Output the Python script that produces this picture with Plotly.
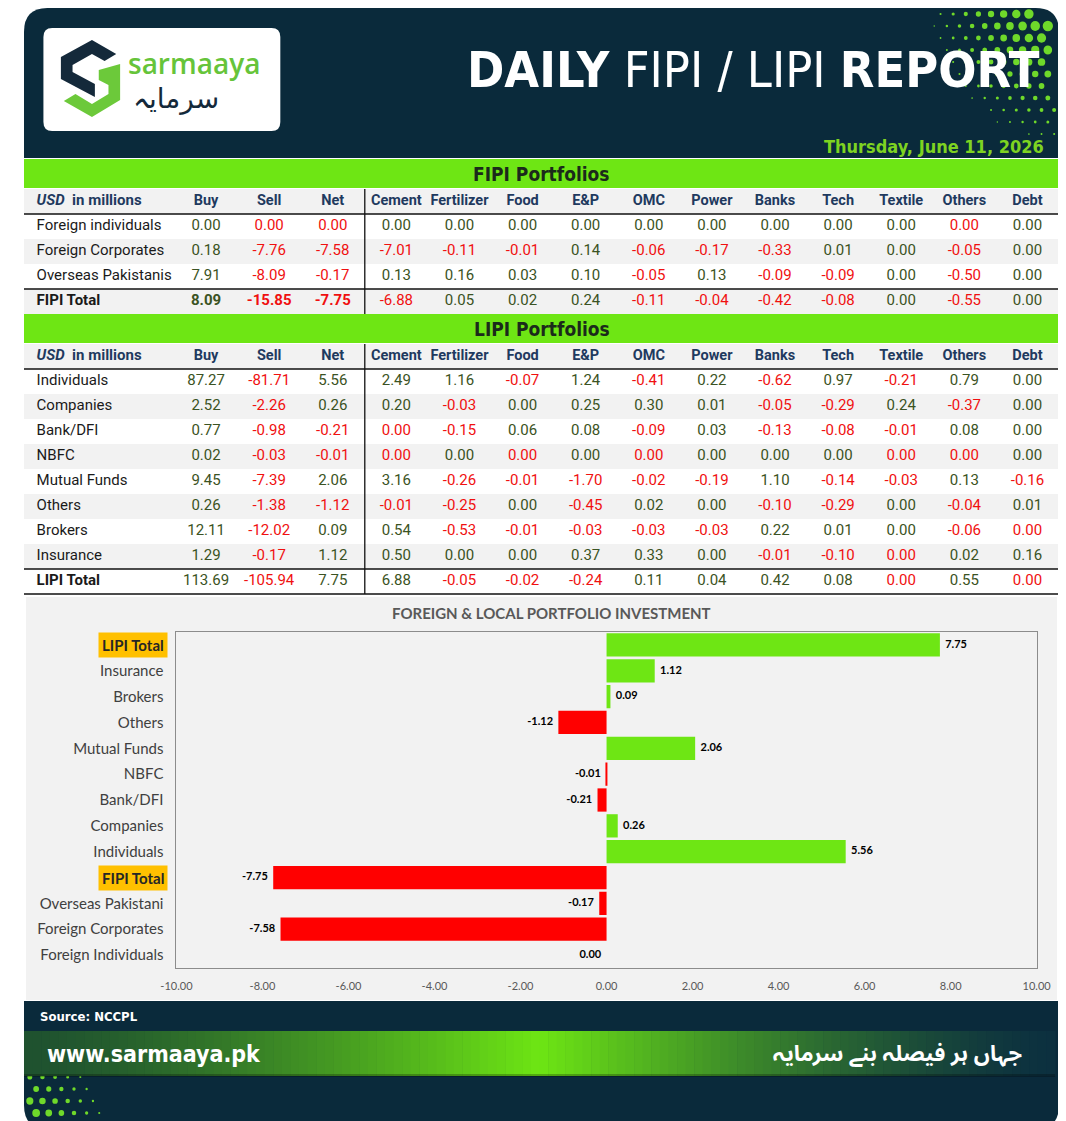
import math
import plotly.graph_objects as go

W, H = 1066, 1121

# ---- data ----
columns = ["Buy", "Sell", "Net", "Cement", "Fertilizer", "Food", "E&P", "OMC",
           "Power", "Banks", "Tech", "Textile", "Others", "Debt"]

fipi_rows = ["Foreign individuals", "Foreign Corporates", "Overseas Pakistanis", "FIPI Total"]
fipi_values = [
    [0.00, -0.0, -0.0, 0.00, 0.00, 0.00, 0.00, 0.00, 0.00, 0.00, 0.00, 0.00, -0.0, 0.00],
    [0.18, -7.76, -7.58, -7.01, -0.11, -0.01, 0.14, -0.06, -0.17, -0.33, 0.01, 0.00, -0.05, 0.00],
    [7.91, -8.09, -0.17, 0.13, 0.16, 0.03, 0.10, -0.05, 0.13, -0.09, -0.09, 0.00, -0.50, 0.00],
    [8.09, -15.85, -7.75, -6.88, 0.05, 0.02, 0.24, -0.11, -0.04, -0.42, -0.08, 0.00, -0.55, 0.00],
]

lipi_rows = ["Individuals", "Companies", "Bank/DFI", "NBFC", "Mutual Funds", "Others",
             "Brokers", "Insurance", "LIPI Total"]
lipi_values = [
    [87.27, -81.71, 5.56, 2.49, 1.16, -0.07, 1.24, -0.41, 0.22, -0.62, 0.97, -0.21, 0.79, 0.00],
    [2.52, -2.26, 0.26, 0.20, -0.03, 0.00, 0.25, 0.30, 0.01, -0.05, -0.29, 0.24, -0.37, 0.00],
    [0.77, -0.98, -0.21, -0.0, -0.15, 0.06, 0.08, -0.09, 0.03, -0.13, -0.08, -0.01, 0.08, 0.00],
    [0.02, -0.03, -0.01, -0.0, 0.00, -0.0, 0.00, -0.0, 0.00, 0.00, 0.00, -0.0, -0.0, 0.00],
    [9.45, -7.39, 2.06, 3.16, -0.26, -0.01, -1.70, -0.02, -0.19, 1.10, -0.14, -0.03, 0.13, -0.16],
    [0.26, -1.38, -1.12, -0.01, -0.25, 0.00, -0.45, 0.02, 0.00, -0.10, -0.29, 0.00, -0.04, 0.01],
    [12.11, -12.02, 0.09, 0.54, -0.53, -0.01, -0.03, -0.03, -0.03, 0.22, 0.01, 0.00, -0.06, -0.0],
    [1.29, -0.17, 1.12, 0.50, 0.00, 0.00, 0.37, 0.33, 0.00, -0.01, -0.10, -0.0, 0.02, 0.16],
    [113.69, -105.94, 7.75, 6.88, -0.05, -0.02, -0.24, 0.11, 0.04, 0.42, 0.08, -0.0, 0.55, -0.0],
]

chart_labels = ["Foreign Individuals", "Foreign Corporates", "Overseas Pakistani", "FIPI Total",
                "Individuals", "Companies", "Bank/DFI", "NBFC", "Mutual Funds", "Others",
                "Brokers", "Insurance", "LIPI Total"]
chart_net = [r[2] for r in fipi_values] + [r[2] for r in lipi_values]
x_ticks = [-10, -8, -6, -4, -2, 0, 2, 4, 6, 8, 10]

report_date = "Thursday, June 11, 2026"

# ---- styles ----
NAVY = "#0a2a3b"
LIME = "#6ee614"
POS = "#3b5323"
NEG = "#f01010"
BAR_NEG = "#ff0000"
HEAD = "#1f3a5f"
STRIPE = "#f2f2f2"
COND = "DejaVu Sans Condensed, Roboto, sans-serif"
ROW_H = 25
col_widths = [155, 65, 65, 66] + [65] * 11


def X(px):
    return px / W


def Y(py):
    return 1 - py / H


def neg(v):
    return math.copysign(1, v) < 0


def fmt(v):
    return f"{abs(v):.2f}" if v == 0 else f"{v:.2f}"


def poly(pts):
    return "M " + " L ".join(f"{X(a):.5f},{Y(b):.5f}" for a, b in pts) + " Z"


def round_top(x0, y0, x1, y1, r):
    return (f"M {X(x0)},{Y(y1)} L {X(x0)},{Y(y0 + r)} Q {X(x0)},{Y(y0)} {X(x0 + r)},{Y(y0)} "
            f"L {X(x1 - r)},{Y(y0)} Q {X(x1)},{Y(y0)} {X(x1)},{Y(y0 + r)} L {X(x1)},{Y(y1)} Z")


def round_bottom(x0, y0, x1, y1, r):
    return (f"M {X(x0)},{Y(y0)} L {X(x1)},{Y(y0)} L {X(x1)},{Y(y1 - r)} Q {X(x1)},{Y(y1)} {X(x1 - r)},{Y(y1)} "
            f"L {X(x0 + r)},{Y(y1)} Q {X(x0)},{Y(y1)} {X(x0)},{Y(y1 - r)} Z")


def round_all(x0, y0, x1, y1, r):
    return (f"M {X(x0 + r)},{Y(y0)} L {X(x1 - r)},{Y(y0)} Q {X(x1)},{Y(y0)} {X(x1)},{Y(y0 + r)} "
            f"L {X(x1)},{Y(y1 - r)} Q {X(x1)},{Y(y1)} {X(x1 - r)},{Y(y1)} "
            f"L {X(x0 + r)},{Y(y1)} Q {X(x0)},{Y(y1)} {X(x0)},{Y(y1 - r)} "
            f"L {X(x0)},{Y(y0 + r)} Q {X(x0)},{Y(y0)} {X(x0 + r)},{Y(y0)} Z")


def rect(x0, y0, x1, y1, color, layer="below"):
    return dict(type="rect", xref="paper", yref="paper", x0=X(x0), x1=X(x1), y0=Y(y1), y1=Y(y0),
                fillcolor=color, line=dict(width=0), layer=layer)


shapes = []
annotations = []

# header and footer panels
shapes.append(dict(type="path", xref="paper", yref="paper", path=round_top(0, 0, W, 150, 24),
                   fillcolor=NAVY, line=dict(width=0), layer="below"))
shapes.append(dict(type="path", xref="paper", yref="paper", path=round_bottom(0, 993, W, H, 24),
                   fillcolor=NAVY, line=dict(width=0), layer="below"))

# halftone dots, top right
for i in range(11):
    for j in range(12):
        cx = 1061 - j * 13 - (6.5 if i % 2 else 0)
        cy = 6 + i * 12
        d = math.hypot(1075 - cx, cy + 5)
        r = 6.6 - 0.042 * d
        if r < 0.7 or cx + r > 1064 or cy - r < 1:
            continue
        if cx > 1042 and cy < 24 and math.hypot(cx - 1042, cy - 24) > 20:
            continue
        shapes.append(dict(type="circle", xref="paper", yref="paper", x0=X(cx - r), x1=X(cx + r),
                           y0=Y(cy + r), y1=Y(cy - r), fillcolor="#6fd92a", line=dict(width=0),
                           layer="below"))

# halftone dots, bottom left
for i in range(5):
    for j in range(10):
        cx = 6 + j * 13 + (6.5 if i % 2 else 0)
        cy = 1117 - i * 12
        d = math.hypot(cx + 10, 1128 - cy)
        r = 5.6 - 0.05 * d
        if r < 0.7 or cy + r > 1119 or cx - r < 1:
            continue
        if cx < 22 and cy > 1097 and math.hypot(cx - 22, cy - 1097) > 20:
            continue
        shapes.append(dict(type="circle", xref="paper", yref="paper", x0=X(cx - r), x1=X(cx + r),
                           y0=Y(cy + r), y1=Y(cy - r), fillcolor="#6fd92a", line=dict(width=0),
                           layer="below"))

# footer gradient banner
left_c, mid_c, right_c = (0x1f, 0x52, 0x30), (0x6e, 0xe6, 0x14), (0x0c, 0x30, 0x40)
n_strips = 120
for k in range(n_strips):
    x0 = k * 1062 / n_strips
    t = (k + 0.5) / n_strips
    s = max(0.0, 1 - abs(t - 0.5) * 2) ** 1.4
    edge = left_c if t < 0.5 else right_c
    c = tuple(int(edge[q] + (mid_c[q] - edge[q]) * s) for q in range(3))
    shapes.append(rect(x0, 1023, x0 + 1062 / n_strips + 0.6, 1068, "rgb(%d,%d,%d)" % c))
shapes.append(rect(0, 1066, 1062, 1069, "rgba(0,0,0,0.25)"))

# logo
shapes.append(dict(type="path", xref="paper", yref="paper", path=round_all(20, 20, 264, 123, 9),
                   fillcolor="white", line=dict(width=0), layer="below"))
shapes.append(dict(type="path", xref="paper", yref="paper",
                   path=poly([(38, 49), (70, 32), (95, 46), (83, 53), (70, 46), (50, 57), (50, 64),
                              (73, 76), (73, 89), (38, 71)]),
                   fillcolor="#14293a", line=dict(width=0), layer="below"))
shapes.append(dict(type="path", xref="paper", yref="paper",
                   path=poly([(99, 56), (99, 92), (70, 109), (41, 93), (53, 86), (70, 96), (87, 86),
                              (87, 77), (77, 72), (77, 62)]),
                   fillcolor="#6cc93a", line=dict(width=0), layer="below"))
annotations.append(dict(x=X(105), y=Y(55), xref="paper", yref="paper", xanchor="left", yanchor="middle",
                        text="sarmaaya", showarrow=False,
                        font=dict(family="Open Sans", size=28, color="#66c43a", weight=600)))
annotations.append(dict(x=X(110), y=Y(90), xref="paper", yref="paper", xanchor="left", yanchor="middle",
                        text="سرمایہ", showarrow=False,
                        font=dict(family="DejaVu Sans", size=28, color="#14293a")))

# title and date
annotations.append(dict(x=X(1048), y=Y(62), xref="paper", yref="paper", xanchor="right", yanchor="middle",
                        text="<b>DAILY</b> FIPI / LIPI <b>REPORT</b>", showarrow=False,
                        font=dict(family=COND, size=50, color="white")))
annotations.append(dict(x=X(1053), y=Y(138), xref="paper", yref="paper", xanchor="right", yanchor="middle",
                        text="<b>" + report_date + "</b>", showarrow=False,
                        font=dict(family=COND, size=18, color="#7ed321")))

# footer text
annotations.append(dict(x=X(14), y=Y(1008), xref="paper", yref="paper", xanchor="left", yanchor="middle",
                        text="<b>Source: NCCPL</b>", showarrow=False,
                        font=dict(family=COND, size=13, color="white")))
annotations.append(dict(x=X(22), y=Y(1046), xref="paper", yref="paper", xanchor="left", yanchor="middle",
                        text="<b>www.sarmaaya.pk</b>", showarrow=False,
                        font=dict(family=COND, size=23, color="white")))
annotations.append(dict(x=X(1030), y=Y(1046), xref="paper", yref="paper", xanchor="right", yanchor="middle",
                        text="<b>جہاں ہر فیصلہ بنے سرمایہ</b>", showarrow=False,
                        font=dict(family="Noto Sans Arabic, Noto Naskh Arabic, DejaVu Sans", size=22,
                                  color="white")))

fig = go.Figure()

edges = [0]
for w_ in col_widths:
    edges.append(edges[-1] + w_)
centers = [(edges[k] + edges[k + 1]) / 2 for k in range(len(col_widths))]


def add_table(top, title, rows, values, bold_totals, idx):
    xa, ya = "x%d" % idx, "y%d" % idx
    shapes.append(rect(0, top, W, top + 29, LIME))
    annotations.append(dict(x=0.5, y=Y(top + 15), xref="paper", yref="paper", xanchor="center",
                            yanchor="middle", text="<b>" + title + "</b>", showarrow=False,
                            font=dict(family=COND, size=19, color="#1b2a1b")))
    t0 = top + 30
    n = len(rows)
    b0 = t0 + ROW_H * (n + 1)

    # stripes: header plus every second data row
    for i in range(n + 1):
        if i % 2 == 0:
            shapes.append(dict(type="rect", xref=xa, yref=ya, x0=0, x1=W, y0=i - 0.5, y1=i + 0.5,
                               fillcolor=STRIPE, line=dict(width=0), layer="below"))
    for yy in (0.5, n - 0.5):
        shapes.append(dict(type="line", xref=xa, yref=ya, x0=0, x1=W, y0=yy, y1=yy,
                           line=dict(color="#111111", width=1.5), layer="above"))
    shapes.append(dict(type="line", xref=xa, yref=ya, x0=edges[4], x1=edges[4], y0=-0.5, y1=n + 0.5,
                       line=dict(color="#111111", width=1.3), layer="above"))

    # header row
    fig.add_trace(go.Scatter(
        x=[13], y=[0], mode="text", text=["<b><i>USD</i>  in millions</b>"],
        textposition="middle right", textfont=dict(family="Roboto", size=15, color=HEAD),
        xaxis=xa, yaxis=ya, hoverinfo="skip", cliponaxis=False))
    fig.add_trace(go.Scatter(
        x=centers[1:], y=[0] * len(columns), mode="text", text=["<b>" + c + "</b>" for c in columns],
        textposition="middle center", textfont=dict(family="Roboto", size=14.5, color=HEAD),
        xaxis=xa, yaxis=ya, hoverinfo="skip", cliponaxis=False))
    # row labels
    fig.add_trace(go.Scatter(
        x=[13] * n, y=list(range(1, n + 1)), mode="text",
        text=["<b>" + r + "</b>" if r.endswith("Total") else r for r in rows],
        textposition="middle right", textfont=dict(family="Roboto", size=15, color="#1a1a1a"),
        xaxis=xa, yaxis=ya, hoverinfo="skip", cliponaxis=False))
    # values
    xs, ys, txt, cols = [], [], [], []
    for i, row in enumerate(values):
        for k, v in enumerate(row):
            xs.append(centers[k + 1])
            ys.append(i + 1)
            s = fmt(v)
            if i == n - 1 and bold_totals and k < 3:
                s = "<b>" + s + "</b>"
            txt.append(s)
            cols.append(NEG if neg(v) else POS)
    fig.add_trace(go.Scatter(
        x=xs, y=ys, mode="text", text=txt, textposition="middle center",
        textfont=dict(family="Roboto", size=15, color=cols),
        xaxis=xa, yaxis=ya, hoverinfo="skip", cliponaxis=False))

    fig.update_layout({
        "xaxis%d" % idx: dict(domain=[0, 1], range=[0, W], visible=False, fixedrange=True, anchor=ya),
        "yaxis%d" % idx: dict(domain=[Y(b0), Y(t0)], range=[n + 0.5, -0.5], visible=False,
                              fixedrange=True, anchor=xa),
    })
    return b0


add_table(151, "FIPI Portfolios", fipi_rows, fipi_values, True, 2)
bottom = add_table(306, "LIPI Portfolios", lipi_rows, lipi_values, False, 3)
shapes.append(dict(type="line", xref="paper", yref="paper", x0=0, x1=1, y0=Y(bottom), y1=Y(bottom),
                   line=dict(color="#111111", width=1.5), layer="above"))

# chart panel
shapes.append(rect(2, 589, 1064, 992, STRIPE))
annotations.append(dict(x=X(543), y=Y(605), xref="paper", yref="paper", xanchor="center", yanchor="middle",
                        text="<b>FOREIGN & LOCAL PORTFOLIO INVESTMENT</b>", showarrow=False,
                        font=dict(family="Lato", size=15, color="#595959")))

bar_colors = [BAR_NEG if neg(v) else LIME for v in chart_net]
fig.add_trace(go.Bar(x=chart_net, y=chart_labels, orientation="h", width=0.9,
                     marker=dict(color=bar_colors, line=dict(width=0)), hoverinfo="skip"))
fig.add_trace(go.Scatter(
    x=chart_net, y=chart_labels, mode="text",
    text=[("\u00a0" * 2 + fmt(v)) if not neg(v) else (fmt(v) + "\u00a0" * 2) for v in chart_net],
    textposition=["middle left" if neg(v) else "middle right" for v in chart_net],
    textfont=dict(family="Lato", size=11, color="black", weight="bold"),
    hoverinfo="skip", cliponaxis=False))

for lab in chart_labels:
    if lab.endswith("Total"):
        annotations.append(dict(x=X(148), y=lab, xref="paper", yref="y", xanchor="right", yanchor="middle",
                                text="<b>" + lab + "</b>", showarrow=False, bgcolor="#ffc000",
                                borderpad=3, font=dict(family="Lato", size=15, color="#262626")))

fig.update_layout(
    width=W, height=H, margin=dict(l=0, r=0, t=0, b=0),
    paper_bgcolor="white", plot_bgcolor="rgba(0,0,0,0)", showlegend=False,
    shapes=shapes, annotations=annotations, bargap=0.1,
    xaxis=dict(domain=[X(157), X(1043)], range=[-10, 10], tickvals=x_ticks,
               ticktext=[f"{t:.2f}" for t in x_ticks],
               showgrid=False, zeroline=False, showline=True, mirror=True, linecolor="#8c8c8c",
               linewidth=1, ticks="", ticklabelstandoff=8, fixedrange=True,
               tickfont=dict(family="Lato", size=11, color="#595959")),
    yaxis=dict(domain=[Y(960), Y(624)], range=[-0.5, len(chart_labels) - 0.5],
               tickvals=chart_labels,
               ticktext=["" if l.endswith("Total") else l for l in chart_labels],
               showgrid=False, zeroline=False, showline=True, mirror=True, linecolor="#8c8c8c",
               linewidth=1, ticks="", ticklabelstandoff=9, fixedrange=True,
               tickfont=dict(family="Lato", size=15, color="#404040")),
)

fig.write_html("out.html")
